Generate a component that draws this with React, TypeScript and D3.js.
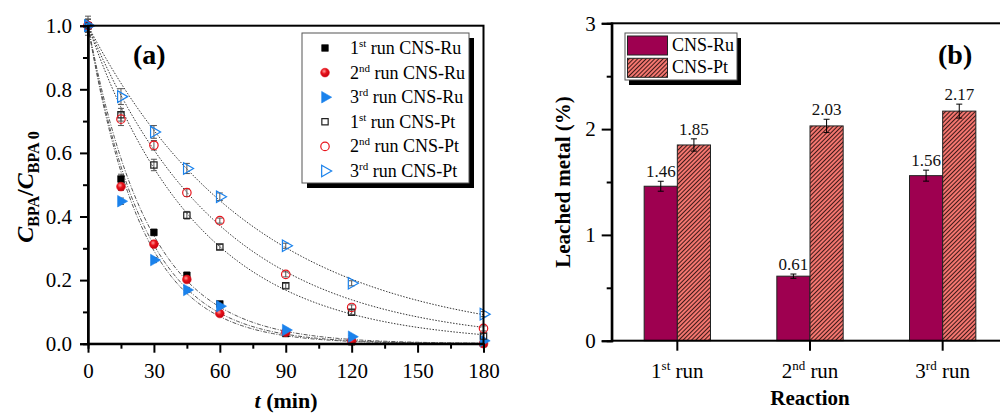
import * as d3 from 'd3'
import { useEffect, useRef } from 'react'

// panel (a): BPA removal vs time
const times = [0, 15, 30, 45, 60, 90, 120, 180]
const ru1 = [1.0, 0.518, 0.35, 0.215, 0.125, 0.032, 0.006, 0.0]
const ru2 = [1.0, 0.494, 0.313, 0.202, 0.095, 0.036, 0.009, 0.0]
const ru3 = [1.0, 0.448, 0.263, 0.169, 0.118, 0.043, 0.022, 0.009]
const pt1 = [1.0, 0.72, 0.562, 0.404, 0.304, 0.182, 0.099, 0.024]
const pt2 = [1.0, 0.706, 0.624, 0.475, 0.387, 0.218, 0.114, 0.048]
const pt3 = [1.0, 0.777, 0.666, 0.551, 0.462, 0.308, 0.19, 0.093]
const ru1Err = [0.02, 0.015, 0.01, 0.01, 0.008, 0.006, 0.005, 0.004]
const ru2Err = [0.02, 0.012, 0.01, 0.01, 0.008, 0.006, 0.005, 0.004]
const ru3Err = [0.02, 0.01, 0.008, 0.008, 0.006, 0.005, 0.004, 0.004]
const pt1Err = [0.02, 0.02, 0.018, 0.012, 0.008, 0.008, 0.008, 0.008]
const pt2Err = [0.02, 0.02, 0.015, 0.012, 0.008, 0.008, 0.008, 0.008]
const pt3Err = [0.03, 0.025, 0.02, 0.016, 0.012, 0.008, 0.008, 0.008]
// pseudo-first-order rate constants of the fitted curves (1/min)
const fitK = [0.036, 0.039, 0.041, 0.0198, 0.0165, 0.0133]
const seriesNames = ['run CNS-Ru', 'run CNS-Ru', 'run CNS-Ru', 'run CNS-Pt', 'run CNS-Pt', 'run CNS-Pt']
const ordBase = ['1', '2', '3', '1', '2', '3']
const ordSup = ['st', 'nd', 'rd', 'st', 'nd', 'rd']
const xTicksA = [0, 30, 60, 90, 120, 150, 180]
const yTicksA = [0, 0.2, 0.4, 0.6, 0.8, 1.0]

// panel (b): leached metal
const reactions = ['1st run', '2nd run', '3rd run']
const reactBase = ['1', '2', '3']
const reactSup = ['st', 'nd', 'rd']
const ruLeach = [1.46, 0.61, 1.56]
const ptLeach = [1.85, 2.03, 2.17]
const ruLeachErr = [0.047, 0.02, 0.052]
const ptLeachErr = [0.058, 0.063, 0.066]
const yTicksB = [0, 1, 2, 3]

const FONT = "'Liberation Serif', 'Times New Roman', 'DejaVu Serif', serif"
const BLUE = '#1a82ec'
const RED = '#e8141c'
const RU_COLOR = '#9e0050'
const PT_COLOR = '#f4766f'

const App = () => {
  const svgRef = useRef()

  useEffect(() => {
    const svg = d3.select(svgRef.current)
    svg.selectAll('*').remove()

    const defs = svg.append('defs')
    const grad = defs.append('radialGradient').attr('id', 'ball').attr('cx', '40%').attr('cy', '35%').attr('r', '65%')
    grad.append('stop').attr('offset', '0%').attr('stop-color', '#ff9a9a')
    grad.append('stop').attr('offset', '45%').attr('stop-color', RED)
    grad.append('stop').attr('offset', '100%').attr('stop-color', '#c00010')
    const pat = defs
      .append('pattern')
      .attr('id', 'hatch')
      .attr('patternUnits', 'userSpaceOnUse')
      .attr('width', 3)
      .attr('height', 3)
      .attr('patternTransform', 'rotate(45)')
    pat.append('rect').attr('width', 3).attr('height', 3).attr('fill', PT_COLOR)
    pat.append('line').attr('x1', 0.5).attr('y1', 0).attr('x2', 0.5).attr('y2', 3).attr('stroke', '#2a1010').attr('stroke-width', 0.9)

    // ---------- panel (a) ----------
    const x = d3.scaleLinear().domain([0, 180]).range([88, 483.5])
    const y = d3.scaleLinear().domain([0, 1]).range([343.7, 25.7])

    const seriesVals = [ru1, ru2, ru3, pt1, pt2, pt3]
    const seriesErr = [ru1Err, ru2Err, ru3Err, pt1Err, pt2Err, pt3Err]
    const symTypes = [d3.symbolSquare, d3.symbolCircle, d3.symbolTriangle, d3.symbolSquare, d3.symbolCircle, d3.symbolTriangle]
    const symSizes = [44, 60, 58, 40, 56, 58]
    const fills = ['#000', 'url(#ball)', BLUE, 'none', 'none', 'none']
    const strokes = ['#000', RED, BLUE, '#222', RED, BLUE]

    const drawSymbol = (g, i, cx, cy) => {
      g.append('path')
        .attr('d', d3.symbol().type(symTypes[i]).size(symSizes[i])())
        .attr('transform', `translate(${cx},${cy})${symTypes[i] === d3.symbolTriangle ? ' rotate(90)' : ''}`)
        .attr('fill', fills[i])
        .attr('stroke', strokes[i])
        .attr('stroke-width', i < 3 ? 0.6 : 1.2)
    }

    // fit curves
    const fitTimes = d3.range(0, 181, 2)
    const fitLine = d3
      .line()
      .x((d) => x(d[0]))
      .y((d) => y(d[1]))
    fitK.forEach((k, i) => {
      svg
        .append('path')
        .attr('d', fitLine(fitTimes.map((t) => [t, Math.exp(-k * t)])))
        .attr('fill', 'none')
        .attr('stroke', i < 3 ? '#555' : '#333')
        .attr('stroke-width', 1)
        .attr('stroke-dasharray', i < 3 ? '4,1.5,1,1.5' : '1.5,1.5')
    })

    // error bars + markers
    seriesVals.forEach((vals, i) => {
      const g = svg.append('g')
      vals.forEach((v, j) => {
        const e = seriesErr[i][j]
        const cx = x(times[j])
        g.append('path')
          .attr('d', `M${cx - 3},${y(v + e)}H${cx + 3}M${cx},${y(v + e)}V${y(v - e)}M${cx - 3},${y(v - e)}H${cx + 3}`)
          .attr('stroke', '#555')
          .attr('stroke-width', 1)
          .attr('fill', 'none')
      })
    })
    seriesVals.forEach((vals, i) => {
      const g = svg.append('g')
      vals.forEach((v, j) => drawSymbol(g, i, x(times[j]), y(v)))
    })

    // frame
    svg
      .append('rect')
      .attr('x', x(0))
      .attr('y', y(1))
      .attr('width', x(180) - x(0))
      .attr('height', y(0) - y(1))
      .attr('fill', 'none')
      .attr('stroke', '#000')
      .attr('stroke-width', 2)

    const xAxisA = svg
      .append('g')
      .attr('transform', `translate(0,${y(0)})`)
      .call(d3.axisBottom(x).tickValues(xTicksA).tickSize(9).tickPadding(10).tickFormat(d3.format('d')))
    const yAxisA = svg
      .append('g')
      .attr('transform', `translate(${x(0)},0)`)
      .call(d3.axisLeft(y).tickValues(yTicksA).tickSize(8).tickPadding(8).tickFormat(d3.format('.1f')))
    svg
      .append('g')
      .attr('transform', `translate(0,${y(0)})`)
      .call(d3.axisBottom(x).tickValues([15, 45, 75, 105, 135, 165]).tickSize(5).tickFormat(''))
    svg
      .append('g')
      .attr('transform', `translate(${x(0)},0)`)
      .call(d3.axisLeft(y).tickValues([0.1, 0.3, 0.5, 0.7, 0.9]).tickSize(5).tickFormat(''))

    // ---------- panel (b) ----------
    const xb = d3.scaleBand().domain(reactions).range([611, 1009]).paddingInner(0).paddingOuter(0)
    const sub = d3.scaleBand().domain(['Ru', 'Pt']).range([0, xb.bandwidth()]).paddingInner(0).paddingOuter(1)
    const yb = d3.scaleLinear().domain([0, 3]).range([340.7, 23.3])

    const barData = reactions.flatMap((r, i) => [
      { r, key: 'Ru', v: ruLeach[i], e: ruLeachErr[i] },
      { r, key: 'Pt', v: ptLeach[i], e: ptLeachErr[i] },
    ])
    const bars = svg.append('g')
    barData.forEach((d) => {
      const bx = xb(d.r) + sub(d.key)
      bars
        .append('rect')
        .attr('x', bx)
        .attr('y', yb(d.v))
        .attr('width', sub.bandwidth())
        .attr('height', yb(0) - yb(d.v))
        .attr('fill', d.key === 'Ru' ? RU_COLOR : 'url(#hatch)')
        .attr('stroke', '#222')
        .attr('stroke-width', 1)
      const cx = bx + sub.bandwidth() / 2
      bars
        .append('path')
        .attr('d', `M${cx - 3},${yb(d.v + d.e)}H${cx + 3}M${cx},${yb(d.v + d.e)}V${yb(d.v - d.e)}M${cx - 3},${yb(d.v - d.e)}H${cx + 3}`)
        .attr('stroke', '#000')
        .attr('stroke-width', 1)
        .attr('fill', 'none')
      bars
        .append('text')
        .attr('x', cx)
        .attr('y', yb(d.v + d.e) - 4)
        .attr('text-anchor', 'middle')
        .attr('font-size', 17)
        .attr('fill', '#111')
        .text(d.v.toFixed(2))
    })

    svg
      .append('rect')
      .attr('x', 611.7)
      .attr('y', yb(3))
      .attr('width', 1009 - 611.7)
      .attr('height', yb(0) - yb(3))
      .attr('fill', 'none')
      .attr('stroke', '#000')
      .attr('stroke-width', 2)

    const yAxisB = svg
      .append('g')
      .attr('transform', 'translate(611.7,0)')
      .call(d3.axisLeft(yb).tickValues(yTicksB).tickSize(10).tickPadding(6).tickFormat(d3.format('d')))
    svg
      .append('g')
      .attr('transform', 'translate(611.7,0)')
      .call(d3.axisLeft(yb).tickValues([0.5, 1.5, 2.5]).tickSize(5).tickFormat(''))
    const xAxisB = svg
      .append('g')
      .attr('transform', `translate(0,${yb(0)})`)
      .call(d3.axisBottom(xb).tickSize(10).tickFormat(''))

    // style axes
    svg.selectAll('.domain').attr('stroke-width', 2).attr('stroke', '#000')
    svg.selectAll('.tick line').attr('stroke-width', 2).attr('stroke', '#000')
    ;[xAxisA, yAxisA, yAxisB].forEach((a) => a.selectAll('text').attr('font-size', 21).attr('fill', '#000'))
    xAxisA.selectAll('.domain').remove()
    xAxisB.selectAll('.domain').remove()

    // category labels with superscript ordinals
    reactions.forEach((r, i) => {
      const t = svg
        .append('text')
        .attr('x', xb(r) + xb.bandwidth() / 2)
        .attr('y', 378)
        .attr('text-anchor', 'middle')
        .attr('font-size', 21)
      t.append('tspan').text(reactBase[i])
      t.append('tspan').attr('font-size', 13).attr('dy', -8).text(reactSup[i])
      t.append('tspan').attr('dy', 8).text(' run')
    })

    // axis titles
    const tA = svg
      .append('text')
      .attr('x', 286)
      .attr('y', 408)
      .attr('text-anchor', 'middle')
      .attr('font-size', 22)
      .attr('font-weight', 'bold')
    tA.append('tspan').attr('font-style', 'italic').text('t')
    tA.append('tspan').text(' (min)')

    const yA = svg
      .append('text')
      .attr('transform', 'translate(33,187) rotate(-90)')
      .attr('text-anchor', 'middle')
      .attr('font-size', 24)
      .attr('font-weight', 'bold')
    yA.append('tspan').attr('font-style', 'italic').text('C')
    yA.append('tspan').attr('font-size', 16).attr('dy', 6).text('BPA')
    yA.append('tspan').attr('dy', -6).text('/')
    yA.append('tspan').attr('font-style', 'italic').text('C')
    yA.append('tspan').attr('font-size', 16).attr('dy', 6).text('BPA 0')

    svg
      .append('text')
      .attr('x', 810)
      .attr('y', 405)
      .attr('text-anchor', 'middle')
      .attr('font-size', 21)
      .attr('font-weight', 'bold')
      .text('Reaction')
    svg
      .append('text')
      .attr('transform', 'translate(570,182) rotate(-90)')
      .attr('text-anchor', 'middle')
      .attr('font-size', 21)
      .attr('font-weight', 'bold')
      .text('Leached metal (%)')

    // panel tags
    svg.append('text').attr('x', 133).attr('y', 64).attr('font-size', 28).attr('font-weight', 'bold').text('(a)')
    svg.append('text').attr('x', 938).attr('y', 64).attr('font-size', 28).attr('font-weight', 'bold').text('(b)')

    // legend (a)
    const lgA = svg.append('g')
    lgA.append('rect').attr('x', 307).attr('y', 38).attr('width', 167).attr('height', 150).attr('fill', '#000')
    lgA.append('rect').attr('x', 302).attr('y', 33).attr('width', 167).attr('height', 150).attr('fill', '#fff').attr('stroke', '#555').attr('stroke-width', 1)
    seriesNames.forEach((name, i) => {
      const ly = 48 + i * 24.6
      drawSymbol(lgA, i, 325, ly)
      const t = lgA.append('text').attr('x', 350).attr('y', ly + 6).attr('font-size', 18)
      t.append('tspan').text(ordBase[i])
      t.append('tspan').attr('font-size', 11).attr('dy', -7).text(ordSup[i])
      t.append('tspan').attr('dy', 7).text(' ' + name)
    })

    // legend (b)
    const lgB = svg.append('g')
    lgB.append('rect').attr('x', 629).attr('y', 38).attr('width', 112).attr('height', 47).attr('fill', '#000')
    lgB.append('rect').attr('x', 625).attr('y', 33).attr('width', 112).attr('height', 47).attr('fill', '#fff').attr('stroke', '#555').attr('stroke-width', 1)
    ;[
      ['CNS-Ru', RU_COLOR],
      ['CNS-Pt', 'url(#hatch)'],
    ].forEach(([name, fill], i) => {
      const ly = 36 + i * 22.3
      lgB.append('rect').attr('x', 627.5).attr('y', ly).attr('width', 40).attr('height', 19).attr('fill', fill).attr('stroke', '#222').attr('stroke-width', 1)
      lgB.append('text').attr('x', 672).attr('y', ly + 15).attr('font-size', 18).text(name)
    })

    // serif everywhere (css beats the axis' sans-serif attribute)
    svg.selectAll('text').style('font-family', FONT)
  }, [])

  return (
    <svg
      ref={svgRef}
      width="1000"
      height="413"
      style={{ position: 'absolute', left: 0, top: 0, background: '#fff', fontFamily: FONT }}
    ></svg>
  )
}

export default App
